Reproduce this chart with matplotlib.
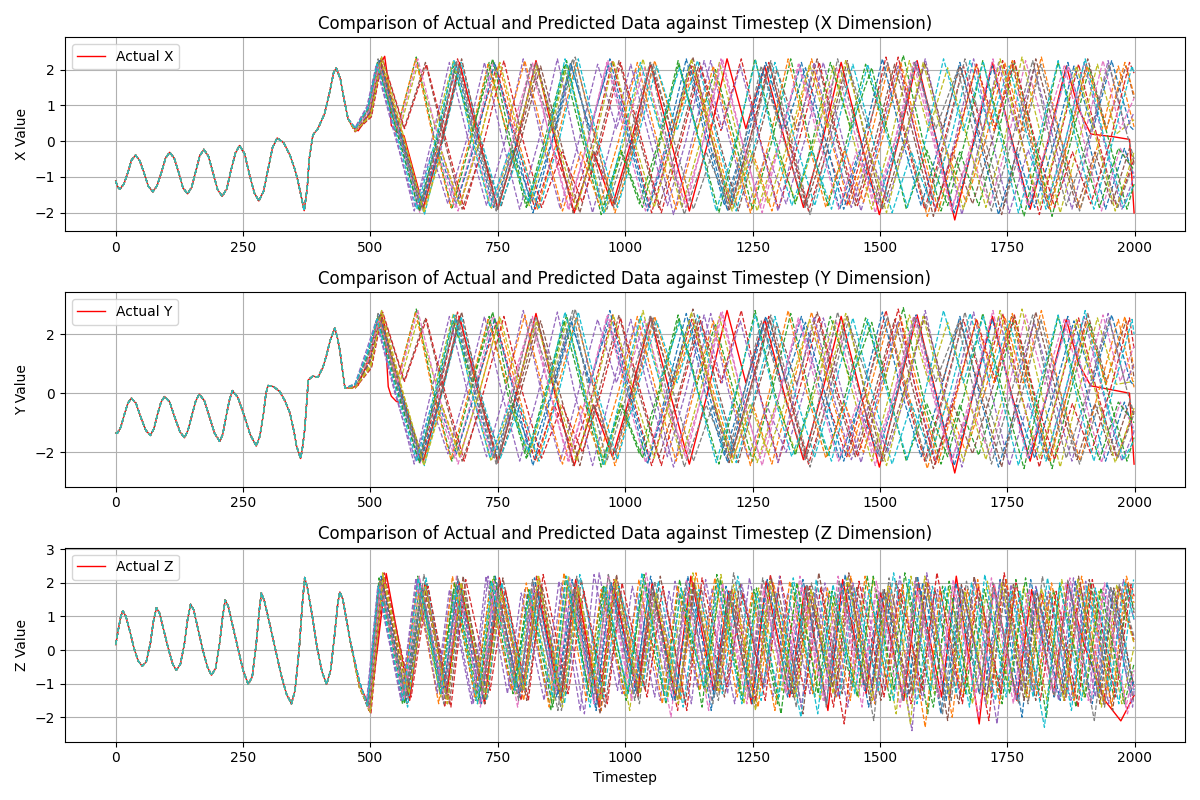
import matplotlib.pyplot as plt

# values all series share before they split
x_start_t = [0, 4, 8, 16, 24, 31, 39, 47, 56, 64, 73, 81, 90, 98, 106, 115, 124, 132, 141, 149,
             157, 165, 173, 182, 191, 200, 209, 218, 226, 235, 243, 253, 262, 272, 281, 290, 299, 308, 317, 330,
             342, 352, 358, 365, 370, 376, 380, 387, 397, 410, 420, 428, 433, 441, 448, 456]
x_start = [-1.11, -1.28, -1.34, -1.20, -0.87, -0.53, -0.39, -0.54, -0.90, -1.26, -1.41, -1.25, -0.86, -0.47, -0.31,
           -0.48, -0.89, -1.30, -1.47, -1.29, -0.85, -0.41, -0.23, -0.42, -0.88, -1.35, -1.54, -1.33, -0.83, -0.33,
           -0.12, -0.35, -0.90, -1.44, -1.67, -1.41, -0.79, -0.17, 0.09, -0.05, -0.39, -0.80, -1.13, -1.60, -1.94,
           -1.30, -0.48, 0.17, 0.35, 0.77, 1.37, 1.93, 2.04, 1.74, 1.19, 0.63]

y_start_t = [0, 3, 10, 17, 24, 31, 40, 50, 59, 68, 75, 82, 89, 96, 106, 116, 126, 135, 142, 150,
             157, 164, 174, 184, 194, 204, 210, 216, 223, 229, 240, 252, 264, 276, 283, 290, 295, 299, 310, 322,
             332, 342, 350, 355, 363, 367, 371, 375, 378, 387, 397, 407, 414, 421, 430, 435, 440, 445, 450]
y_start = [-1.34, -1.36, -1.15, -0.72, -0.33, -0.17, -0.35, -0.85, -1.25, -1.43, -1.20, -0.72, -0.30, -0.11, -0.30,
           -0.82, -1.30, -1.51, -1.25, -0.72, -0.27, -0.03, -0.25, -0.80, -1.35, -1.63, -1.40, -0.85, -0.25, 0.09,
           -0.15, -0.75, -1.40, -1.79, -1.45, -0.70, 0.0, 0.26, 0.22, 0.06, -0.25, -0.67, -1.3, -1.79, -2.21,
           -1.8, -1.23, -0.3, 0.45, 0.58, 0.54, 0.89, 1.3, 1.79, 2.20, 1.9, 1.45, 0.8, 0.17]

z_start_t = [0, 5, 10, 14, 20, 28, 36, 44, 52, 60, 68, 74, 80, 86, 95, 104, 112, 119, 127, 135,
             141, 147, 153, 162, 171, 180, 188, 196, 204, 210, 215, 221, 230, 240, 250, 260, 268, 276, 282, 286,
             292, 302, 313, 325, 335, 345, 352, 360, 366, 371, 377, 386, 395, 405, 414, 422, 430, 436, 440, 446,
             453, 460]
z_start = [0.16, 0.6, 1.0, 1.17, 1.0, 0.55, 0.05, -0.32, -0.48, -0.35, 0.2, 0.85, 1.26, 1.1, 0.55, 0.0, -0.42, -0.60,
           -0.42, 0.2, 0.9, 1.36, 1.2, 0.6, 0.0, -0.5, -0.75, -0.55, 0.2, 1.0, 1.49, 1.3, 0.7, 0.05, -0.6, -1.02,
           -0.8, 0.2, 1.2, 1.70, 1.45, 0.8, 0.05, -0.75, -1.3, -1.6, -1.2, 0.0, 1.3, 2.16, 1.8, 1.0, 0.1, -0.65,
           -1.02, -0.6, 0.5, 1.4, 1.73, 1.5, 0.9, 0.3]

# actual series after the split
act_t = [466, 476, 500, 512, 521, 528, 535, 541, 551, 566, 604, 640, 675, 712, 750, 788, 825, 862, 900, 938,
         975, 1012, 1050, 1088, 1126, 1163, 1200, 1237, 1274, 1312, 1350, 1387, 1424, 1462, 1499, 1536, 1573,
         1610, 1647, 1684, 1721, 1758, 1795, 1830, 1866, 1890, 1914, 1960, 1990, 1999]
act_x = [0.37, 0.29, 0.81, 1.65, 2.2, 2.37, 1.65, 0.44, 0.26, 0.15, -1.85, 0.0, 2.2, 0.1, -1.9, 0.0, 2.25, 0.05,
         -2.0, -0.3, -1.8, 0.0, 2.15, 0.1, -1.95, 0.0, 2.3, 0.35, 2.1, 0.1, -1.85, 0.0, 2.2, 0.05, -2.05, 0.0,
         2.25, 0.1, -2.2, 0.0, 2.2, 0.1, -1.9, 0.0, 2.1, 0.9, 0.2, 0.12, 0.05, -2.0]
act_y = [0.2, 0.27, 1.3, 2.35, 2.68, 2.3, 0.22, -0.1, -0.28, -0.35, -2.3, 0.05, 2.6, 0.0, -2.35, 0.1, 2.7, 0.0,
         -2.45, -0.4, -2.15, 0.05, 2.55, 0.0, -2.4, 0.1, 2.8, 0.35, 2.5, 0.0, -2.25, 0.05, 2.6, 0.0, -2.5, 0.1,
         2.65, 0.0, -2.7, 0.05, 2.6, 0.0, -2.3, 0.1, 2.5, 1.0, 0.25, 0.1, 0.0, -2.4]
act_tz = [478, 499, 515, 531, 577, 607, 650, 678, 724, 753, 799, 828, 874, 903, 949, 978, 1024, 1053, 1099, 1129,
          1174, 1203, 1248, 1277, 1323, 1353, 1398, 1427, 1473, 1502, 1547, 1576, 1621, 1650, 1695, 1724, 1769,
          1798, 1841, 1869, 1900, 1941, 1973, 1994, 1999]
act_z = [-1.0, -1.71, 0.2, 2.28, -1.5, 2.0, -1.3, 1.9, -1.6, 2.15, -1.2, 1.8, -1.5, 2.1, -1.7, 1.85, -1.3, 2.0,
         -1.4, 2.2, -1.2, 1.75, -1.6, 2.05, -1.4, 1.9, -1.8, 2.1, -1.3, 1.7, -1.5, 2.0, -1.4, 2.2, -2.2, 1.95,
         -1.5, 1.8, -1.3, 2.0, 0.2, -1.49, -2.11, -1.5, -1.35]

# predicted series after the split: turning points (times shared by X and Y)
pred_t = [
    [470, 498, 516, 555, 594, 631, 668, 705, 742, 780, 817, 855, 893, 930, 968, 1006, 1044, 1082, 1120, 1158, 1195, 1233, 1270, 1308, 1346, 1384, 1421, 1459, 1496, 1534, 1571, 1609, 1646, 1684, 1721, 1757, 1793, 1831, 1869, 1906, 1943, 1980, 1999],
    [470, 500, 520, 562, 604, 640, 676, 714, 752, 790, 828, 866, 904, 942, 980, 1019, 1058, 1097, 1136, 1174, 1212, 1250, 1288, 1327, 1366, 1403, 1440, 1478, 1517, 1555, 1593, 1631, 1669, 1707, 1745, 1781, 1817, 1855, 1893, 1930, 1968, 1999],
    [470, 496, 514, 552, 590, 625, 660, 697, 733, 770, 806, 843, 880, 917, 953, 991, 1028, 1066, 1104, 1141, 1177, 1214, 1250, 1288, 1325, 1362, 1398, 1435, 1472, 1509, 1546, 1583, 1620, 1657, 1694, 1729, 1764, 1801, 1838, 1875, 1911, 1948, 1985, 1999],
    [470, 499, 519, 559, 599, 635, 671, 709, 747, 785, 823, 861, 899, 937, 975, 1013, 1052, 1091, 1131, 1169, 1207, 1244, 1282, 1321, 1360, 1397, 1435, 1473, 1512, 1550, 1588, 1626, 1664, 1702, 1741, 1777, 1813, 1851, 1890, 1927, 1965, 1999],
    [470, 494, 512, 549, 586, 620, 655, 691, 728, 764, 800, 836, 873, 909, 946, 983, 1020, 1057, 1095, 1131, 1168, 1204, 1241, 1278, 1316, 1352, 1389, 1426, 1463, 1499, 1536, 1573, 1610, 1647, 1684, 1719, 1754, 1791, 1828, 1864, 1901, 1938, 1975, 1999],
    [470, 502, 522, 566, 608, 644, 680, 718, 757, 795, 834, 872, 911, 949, 988, 1027, 1066, 1106, 1146, 1184, 1222, 1260, 1298, 1337, 1377, 1414, 1452, 1490, 1529, 1567, 1605, 1643, 1682, 1720, 1759, 1795, 1831, 1869, 1908, 1945, 1983, 1999],
    [470, 497, 517, 557, 597, 632, 666, 704, 741, 778, 815, 853, 890, 927, 964, 1002, 1040, 1079, 1117, 1154, 1191, 1228, 1265, 1304, 1342, 1379, 1415, 1453, 1491, 1529, 1566, 1603, 1640, 1678, 1716, 1751, 1786, 1824, 1862, 1899, 1935, 1972, 1999],
    [470, 496, 515, 559, 602, 638, 673, 711, 749, 787, 825, 864, 902, 940, 978, 1017, 1055, 1095, 1134, 1172, 1210, 1248, 1286, 1325, 1363, 1401, 1438, 1477, 1515, 1553, 1591, 1629, 1667, 1706, 1744, 1780, 1816, 1854, 1892, 1930, 1967, 1999],
    [470, 500, 521, 557, 592, 628, 663, 700, 737, 775, 812, 849, 886, 923, 960, 998, 1035, 1073, 1111, 1148, 1185, 1222, 1259, 1297, 1335, 1372, 1409, 1447, 1484, 1521, 1558, 1596, 1633, 1671, 1708, 1744, 1779, 1817, 1854, 1891, 1927, 1964, 1999],
    [470, 495, 513, 560, 606, 642, 678, 716, 755, 793, 831, 870, 908, 946, 985, 1023, 1062, 1102, 1142, 1180, 1218, 1256, 1294, 1333, 1372, 1409, 1447, 1485, 1524, 1562, 1600, 1638, 1677, 1715, 1754, 1790, 1826, 1864, 1903, 1940, 1978, 1999],
    [470, 498, 518, 558, 598, 634, 669, 707, 744, 782, 819, 857, 894, 932, 970, 1009, 1047, 1087, 1126, 1164, 1201, 1239, 1276, 1315, 1354, 1392, 1429, 1467, 1505, 1543, 1581, 1619, 1657, 1695, 1733, 1769, 1804, 1843, 1881, 1918, 1955, 1992, 1999],
    [470, 497, 516, 552, 589, 623, 658, 694, 731, 767, 803, 840, 877, 913, 950, 987, 1024, 1062, 1100, 1136, 1173, 1209, 1246, 1283, 1320, 1357, 1394, 1431, 1468, 1504, 1541, 1578, 1615, 1652, 1689, 1724, 1760, 1797, 1834, 1870, 1907, 1944, 1981, 1999],
    [470, 495, 514, 553, 596, 629, 662, 701, 740, 774, 808, 846, 885, 920, 955, 994, 1034, 1069, 1105, 1144, 1184, 1219, 1255, 1294, 1334, 1368, 1403, 1443, 1484, 1518, 1552, 1592, 1633, 1667, 1702, 1742, 1783, 1816, 1850, 1890, 1931, 1968, 1999],
    [470, 502, 524, 567, 610, 647, 684, 723, 762, 799, 836, 876, 916, 953, 991, 1031, 1071, 1110, 1148, 1188, 1228, 1264, 1301, 1341, 1381, 1418, 1456, 1496, 1536, 1572, 1609, 1650, 1690, 1727, 1764, 1803, 1843, 1878, 1914, 1952, 1990, 1999],
    [470, 493, 511, 548, 588, 620, 652, 688, 724, 758, 793, 830, 867, 901, 936, 973, 1011, 1047, 1083, 1119, 1155, 1190, 1226, 1263, 1300, 1335, 1371, 1407, 1444, 1479, 1515, 1552, 1589, 1625, 1661, 1697, 1733, 1768, 1803, 1840, 1877, 1912, 1948, 1982, 1999],
    [470, 499, 520, 561, 603, 641, 679, 715, 750, 790, 829, 864, 898, 939, 980, 1015, 1050, 1092, 1133, 1169, 1204, 1244, 1284, 1320, 1355, 1396, 1436, 1471, 1506, 1547, 1588, 1623, 1657, 1698, 1739, 1773, 1806, 1847, 1887, 1922, 1956, 1990, 1999],
    [470, 497, 517, 554, 593, 633, 672, 706, 739, 778, 818, 853, 888, 927, 966, 1002, 1038, 1078, 1119, 1153, 1188, 1228, 1269, 1304, 1340, 1379, 1419, 1454, 1490, 1530, 1571, 1606, 1641, 1681, 1722, 1756, 1790, 1830, 1870, 1904, 1938, 1972, 1999],
    [470, 496, 515, 556, 598, 633, 668, 707, 747, 781, 815, 856, 897, 930, 964, 1006, 1049, 1082, 1116, 1159, 1202, 1234, 1267, 1310, 1353, 1385, 1417, 1460, 1503, 1535, 1568, 1610, 1653, 1686, 1719, 1759, 1800, 1833, 1866, 1908, 1950, 1985, 1999],
    [470, 501, 522, 563, 605, 640, 675, 714, 754, 790, 826, 865, 905, 941, 977, 1017, 1057, 1093, 1130, 1170, 1210, 1245, 1281, 1321, 1362, 1397, 1433, 1473, 1513, 1549, 1585, 1624, 1664, 1700, 1736, 1775, 1814, 1850, 1886, 1924, 1962, 1999],
    [470, 495, 513, 551, 591, 627, 664, 699, 735, 772, 810, 846, 882, 920, 958, 994, 1030, 1068, 1107, 1143, 1179, 1217, 1256, 1291, 1327, 1366, 1405, 1440, 1476, 1515, 1554, 1589, 1625, 1664, 1703, 1737, 1772, 1811, 1850, 1885, 1920, 1957, 1995, 1999],
]
pred_x = [
    [0.32, 0.85, 2.25, 0.2, -1.9, 0.0, 2.15, 0.05, -1.85, -0.25, -1.7, -0.05, 2.2, 0.3, 2.1, 0.1, -1.95, 0.0, 2.3, 0.1, -1.8, -0.1, 2.0, 0.35, 2.2, 0.1, -1.9, -0.3, -1.75, 0.0, 2.25, 0.15, -2.0, -0.1, 2.1, 0.1, -1.85, -0.05, 2.2, 0.2, -1.9, -0.2, -1.0],
    [0.28, 0.75, 2.3, 0.25, -1.95, -0.3, -1.8, 0.0, 2.15, 0.05, -1.9, 0.0, 2.2, 0.1, -2.0, -0.05, 2.25, 0.35, 2.05, 0.1, -1.85, -0.3, -1.95, 0.0, 2.3, 0.1, -1.8, -0.1, 2.1, 0.0, -2.1, -0.25, -1.7, 0.0, 2.2, 0.3, 2.35, 0.1, -1.9, 0.0, 2.1, 0.4],
    [0.35, 0.9, 2.15, 0.3, 2.35, 0.1, -1.9, 0.0, 2.2, 0.05, -1.85, 0.1, 2.1, 0.0, -2.05, -0.25, -1.75, 0.0, 2.25, 0.3, 2.0, 0.1, -1.9, 0.0, 2.3, 0.05, -1.8, 0.0, 2.15, 0.35, 2.4, 0.1, -1.95, -0.3, -1.8, 0.0, 2.2, 0.1, -2.1, 0.0, 2.05, 0.1, -1.9, -1.2],
    [0.3, 0.8, 2.2, 0.2, -1.85, 0.05, 2.3, 0.3, 2.05, 0.1, -1.9, -0.3, -1.7, 0.0, 2.25, 0.1, -2.0, 0.0, 2.1, 0.1, -1.85, 0.0, 2.2, 0.1, -1.95, -0.25, -1.8, 0.0, 2.35, 0.1, -1.9, 0.0, 2.1, 0.3, 2.25, 0.1, -2.05, 0.0, 2.15, 0.1, -1.85, -0.5],
    [0.38, 0.95, 2.1, 0.2, -1.95, 0.0, 2.2, 0.1, -1.8, 0.0, 2.3, 0.05, -1.9, 0.0, 2.15, 0.35, 2.0, 0.1, -2.05, 0.0, 2.25, 0.1, -1.85, -0.3, -1.75, 0.0, 2.2, 0.1, -1.95, 0.0, 2.1, 0.05, -1.9, 0.0, 2.3, 0.1, -2.0, -0.25, -1.7, 0.0, 2.2, 0.1, -1.9, -1.0],
    [0.27, 0.7, 2.35, 0.35, 2.2, 0.1, -1.9, -0.3, -1.8, 0.0, 2.1, 0.05, -2.0, 0.0, 2.25, 0.1, -1.85, 0.0, 2.2, 0.05, -1.95, 0.0, 2.0, 0.3, 2.3, 0.1, -1.8, 0.0, 2.15, 0.1, -2.1, -0.3, -1.75, 0.0, 2.2, 0.05, -1.9, 0.0, 2.3, 0.35, 2.1, 1.2],
    [0.3, 0.82, 2.2, 0.2, -2.0, -0.3, -1.85, 0.0, 2.25, 0.3, 2.1, 0.1, -1.9, 0.0, 2.2, 0.05, -1.95, -0.25, -1.7, 0.0, 2.3, 0.1, -1.85, 0.0, 2.15, 0.35, 2.05, 0.1, -2.0, 0.0, 2.2, 0.1, -1.9, -0.3, -1.8, 0.0, 2.25, 0.3, 2.1, 0.1, -1.95, -0.2, -0.9],
    [0.34, 0.88, 2.3, 0.25, -1.8, 0.0, 2.1, 0.05, -1.95, 0.0, 2.2, 0.3, 2.35, 0.1, -1.85, 0.0, 2.15, 0.05, -1.9, -0.3, -1.75, 0.0, 2.25, 0.1, -2.05, 0.0, 2.1, 0.35, 2.2, 0.1, -1.9, 0.0, 2.3, 0.05, -1.8, 0.0, 2.15, 0.1, -1.95, -0.25, -1.85, -0.6],
    [0.29, 0.72, 2.2, 0.3, 2.1, 0.35, 2.25, 0.1, -1.9, -0.3, -1.8, 0.0, 2.15, 0.05, -2.0, 0.0, 2.3, 0.1, -1.85, 0.0, 2.2, 0.05, -1.95, -0.25, -1.7, 0.0, 2.1, 0.1, -1.9, 0.0, 2.25, 0.3, 2.05, 0.1, -1.85, 0.0, 2.35, 0.1, -2.0, 0.0, 2.15, 0.2, 0.6],
    [0.36, 0.92, 2.15, 0.2, -2.05, 0.0, 2.2, 0.1, -1.8, -0.3, -1.9, 0.0, 2.3, 0.05, -1.85, 0.0, 2.1, 0.3, 2.25, 0.1, -1.95, 0.0, 2.2, 0.05, -1.8, 0.0, 2.15, 0.1, -2.0, -0.3, -1.75, 0.0, 2.25, 0.35, 2.1, 0.1, -1.9, 0.0, 2.3, 0.1, -1.85, -1.2],
    [0.31, 0.8, 2.25, 0.2, -1.9, -0.25, -1.75, 0.0, 2.2, 0.05, -2.0, 0.0, 2.1, 0.3, 2.3, 0.1, -1.85, 0.0, 2.15, 0.05, -1.95, 0.0, 2.2, 0.35, 2.05, 0.1, -1.9, 0.0, 2.3, 0.1, -1.8, 0.0, 2.2, 0.05, -2.05, -0.3, -1.85, 0.0, 2.1, 0.3, 2.25, 0.4, 0.3],
    [0.33, 0.86, 2.2, 0.35, 2.3, 0.1, -1.85, 0.0, 2.15, 0.3, 2.25, 0.1, -1.95, -0.3, -1.8, 0.0, 2.2, 0.05, -1.9, 0.0, 2.1, 0.1, -2.0, 0.0, 2.3, 0.1, -1.85, -0.25, -1.7, 0.0, 2.2, 0.05, -1.95, 0.0, 2.15, 0.3, 2.25, 0.1, -1.9, 0.0, 2.1, 0.3, 2.2, 1.3],
    [0.34, 0.9, 2.2, 0.2, -1.95, 0.0, 2.1, 0.3, 2.3, 0.1, -1.8, 0.0, 2.25, 0.05, -1.9, -0.3, -1.85, 0.0, 2.15, 0.1, -2.0, 0.0, 2.3, 0.1, -1.75, 0.0, 2.2, 0.35, 2.05, 0.1, -1.9, -0.25, -1.8, 0.0, 2.25, 0.05, -2.1, 0.0, 2.2, 0.1, -1.85, -0.2, -0.8],
    [0.26, 0.68, 2.3, 0.35, 2.15, 0.1, -1.9, 0.0, 2.25, 0.05, -1.85, -0.3, -1.7, 0.0, 2.2, 0.1, -2.0, 0.0, 2.1, 0.3, 2.3, 0.1, -1.9, 0.0, 2.2, 0.05, -1.8, 0.0, 2.35, 0.1, -1.95, 0.0, 2.15, 0.35, 2.25, 0.1, -1.85, -0.3, -1.75, 0.0, 2.2, 1.9],
    [0.38, 0.97, 2.1, 0.15, -1.85, -0.3, -1.75, 0.0, 2.2, 0.1, -1.9, 0.0, 2.3, 0.05, -2.0, 0.0, 2.15, 0.1, -1.8, 0.0, 2.25, 0.35, 2.1, 0.1, -1.95, 0.0, 2.2, 0.05, -1.85, -0.3, -1.7, 0.0, 2.3, 0.1, -2.05, 0.0, 2.2, 0.3, 2.05, 0.1, -1.9, 0.0, 2.25, 0.3, 0.8],
    [0.3, 0.78, 2.25, 0.2, -1.9, 0.0, 2.3, 0.05, -1.85, 0.0, 2.1, 0.1, -2.0, -0.3, -1.75, 0.0, 2.2, 0.3, 2.35, 0.1, -1.95, 0.0, 2.15, 0.05, -1.8, 0.0, 2.25, 0.1, -1.9, 0.0, 2.2, 0.35, 2.1, 0.1, -2.05, 0.0, 2.3, 0.1, -1.85, -0.3, -1.75, -0.2, -0.6],
    [0.31, 0.83, 2.15, 0.3, 2.3, 0.1, -1.95, -0.25, -1.8, 0.0, 2.2, 0.05, -1.9, 0.0, 2.25, 0.35, 2.05, 0.1, -1.85, 0.0, 2.3, 0.05, -2.0, 0.0, 2.15, 0.1, -1.9, -0.3, -1.7, 0.0, 2.2, 0.1, -1.95, 0.0, 2.3, 0.05, -1.8, 0.0, 2.1, 0.3, 2.25, 0.35, 1.2],
    [0.33, 0.87, 2.2, 0.2, -1.8, 0.0, 2.25, 0.1, -1.95, 0.0, 2.15, 0.3, 2.3, 0.1, -1.9, 0.0, 2.2, 0.05, -2.05, -0.3, -1.75, 0.0, 2.1, 0.1, -1.85, 0.0, 2.3, 0.05, -1.9, 0.0, 2.2, 0.35, 2.0, 0.1, -1.95, 0.0, 2.25, 0.1, -1.8, 0.0, 2.15, 0.2, -0.5],
    [0.28, 0.72, 2.35, 0.25, -2.0, -0.3, -1.8, 0.0, 2.2, 0.3, 2.1, 0.1, -1.9, 0.0, 2.25, 0.05, -1.85, 0.0, 2.3, 0.1, -1.95, -0.25, -1.75, 0.0, 2.15, 0.35, 2.25, 0.1, -2.0, 0.0, 2.2, 0.05, -1.9, 0.0, 2.3, 0.1, -1.8, 0.0, 2.1, 0.1, -1.95, -0.3],
    [0.35, 0.93, 2.15, 0.2, -1.9, 0.0, 2.25, 0.05, -1.85, -0.3, -1.7, 0.0, 2.3, 0.1, -2.0, 0.0, 2.2, 0.35, 2.05, 0.1, -1.95, 0.0, 2.25, 0.05, -1.8, -0.25, -1.9, 0.0, 2.15, 0.1, -1.85, 0.0, 2.3, 0.3, 2.2, 0.1, -2.0, 0.0, 2.25, 0.05, -1.9, 0.0, 2.1, 1.9],
]
pred_y = [
    [0.25, 1.2, 2.6, 0.05, -2.3, 0.1, 2.5, -0.05, -2.2, -0.35, -2.0, 0.0, 2.55, 0.3, 2.4, 0.0, -2.4, 0.1, 2.7, -0.05, -2.1, 0.05, 2.3, 0.35, 2.6, 0.0, -2.25, -0.4, -2.05, 0.1, 2.65, 0.0, -2.45, 0.05, 2.5, 0.0, -2.2, 0.1, 2.6, 0.05, -2.3, -0.3, -1.3],
    [0.2, 1.0, 2.7, 0.1, -2.35, -0.4, -2.1, 0.05, 2.5, 0.0, -2.3, 0.1, 2.55, 0.0, -2.45, 0.05, 2.6, 0.3, 2.4, 0.0, -2.2, -0.35, -2.4, 0.1, 2.75, 0.0, -2.15, 0.0, 2.45, 0.05, -2.55, -0.3, -2.0, 0.1, 2.6, 0.35, 2.8, 0.0, -2.3, 0.1, 2.5, 0.2],
    [0.3, 1.3, 2.5, 0.35, 2.85, 0.0, -2.3, 0.1, 2.6, -0.05, -2.2, 0.05, 2.45, 0.0, -2.5, -0.35, -2.05, 0.1, 2.65, 0.3, 2.35, 0.0, -2.3, 0.05, 2.7, 0.0, -2.15, 0.1, 2.55, 0.4, 2.9, 0.0, -2.4, -0.4, -2.1, 0.05, 2.6, 0.0, -2.55, 0.1, 2.4, 0.0, -2.3, -1.5],
    [0.22, 1.1, 2.6, 0.05, -2.2, 0.1, 2.75, 0.35, 2.4, 0.0, -2.3, -0.4, -2.0, 0.05, 2.65, 0.0, -2.45, 0.1, 2.5, 0.0, -2.2, 0.05, 2.6, 0.0, -2.4, -0.3, -2.15, 0.1, 2.8, 0.0, -2.3, 0.05, 2.5, 0.3, 2.7, 0.0, -2.5, 0.1, 2.55, 0.0, -2.2, -0.6],
    [0.3, 1.4, 2.45, 0.05, -2.4, 0.1, 2.6, 0.0, -2.15, 0.05, 2.8, 0.0, -2.3, 0.1, 2.5, 0.35, 2.35, 0.0, -2.5, 0.05, 2.7, 0.0, -2.2, -0.4, -2.0, 0.1, 2.55, 0.0, -2.35, 0.05, 2.45, 0.0, -2.3, 0.1, 2.75, 0.0, -2.45, -0.35, -2.05, 0.05, 2.6, 0.0, -2.3, -1.3],
    [0.18, 0.9, 2.8, 0.4, 2.55, 0.0, -2.3, -0.4, -2.1, 0.05, 2.45, 0.0, -2.45, 0.1, 2.65, 0.0, -2.2, 0.05, 2.6, 0.0, -2.35, 0.1, 2.35, 0.3, 2.75, 0.0, -2.15, 0.05, 2.5, 0.0, -2.55, -0.35, -2.05, 0.1, 2.6, 0.0, -2.3, 0.05, 2.7, 0.4, 2.45, 0.5],
    [0.25, 1.15, 2.55, 0.05, -2.4, -0.4, -2.2, 0.1, 2.65, 0.35, 2.45, 0.0, -2.3, 0.05, 2.6, 0.0, -2.35, -0.3, -2.0, 0.1, 2.75, 0.0, -2.2, 0.05, 2.5, 0.4, 2.4, 0.0, -2.45, 0.1, 2.6, 0.0, -2.3, -0.4, -2.1, 0.05, 2.65, 0.3, 2.5, 0.0, -2.35, -0.3, -1.2],
    [0.28, 1.25, 2.7, 0.1, -2.15, 0.05, 2.45, 0.0, -2.4, 0.1, 2.6, 0.35, 2.85, 0.0, -2.25, 0.05, 2.55, 0.0, -2.3, -0.4, -2.05, 0.1, 2.65, 0.0, -2.5, 0.05, 2.45, 0.4, 2.6, 0.0, -2.3, 0.1, 2.75, 0.0, -2.15, 0.05, 2.5, 0.0, -2.4, -0.35, -2.2, -0.7],
    [0.2, 0.95, 2.6, 0.3, 2.45, 0.35, 2.7, 0.0, -2.3, -0.4, -2.1, 0.1, 2.5, 0.0, -2.45, 0.05, 2.8, 0.0, -2.2, 0.1, 2.6, 0.0, -2.35, -0.3, -2.0, 0.05, 2.45, 0.0, -2.3, 0.1, 2.65, 0.35, 2.4, 0.0, -2.25, 0.05, 2.85, 0.0, -2.5, 0.1, 2.55, 0.3, 0.4],
    [0.32, 1.45, 2.5, 0.05, -2.45, 0.1, 2.6, 0.0, -2.2, -0.4, -2.3, 0.05, 2.75, 0.0, -2.25, 0.1, 2.45, 0.35, 2.65, 0.0, -2.35, 0.05, 2.6, 0.0, -2.15, 0.1, 2.55, 0.0, -2.4, -0.35, -2.1, 0.05, 2.7, 0.4, 2.45, 0.0, -2.3, 0.1, 2.8, 0.0, -2.25, -1.6],
    [0.24, 1.05, 2.65, 0.05, -2.3, -0.35, -2.05, 0.1, 2.55, 0.0, -2.45, 0.05, 2.4, 0.35, 2.8, 0.0, -2.25, 0.1, 2.5, 0.0, -2.35, 0.05, 2.6, 0.4, 2.4, 0.0, -2.3, 0.1, 2.75, 0.0, -2.15, 0.05, 2.6, 0.0, -2.5, -0.4, -2.2, 0.1, 2.45, 0.35, 2.65, 0.4, 0.25],
    [0.27, 1.15, 2.55, 0.4, 2.75, 0.0, -2.25, 0.1, 2.5, 0.35, 2.65, 0.0, -2.4, -0.4, -2.1, 0.05, 2.6, 0.0, -2.3, 0.1, 2.45, 0.0, -2.45, 0.05, 2.8, 0.0, -2.2, -0.35, -2.0, 0.1, 2.55, 0.0, -2.35, 0.05, 2.5, 0.35, 2.7, 0.0, -2.3, 0.1, 2.45, 0.3, 2.6, 0.8],
    [0.26, 1.3, 2.6, 0.05, -2.35, 0.1, 2.45, 0.35, 2.75, 0.0, -2.15, 0.05, 2.65, 0.0, -2.3, -0.4, -2.2, 0.1, 2.5, 0.0, -2.4, 0.05, 2.8, 0.0, -2.1, 0.1, 2.6, 0.4, 2.4, 0.0, -2.3, -0.35, -2.15, 0.05, 2.7, 0.0, -2.55, 0.1, 2.6, 0.0, -2.25, -0.3, -1.0],
    [0.17, 0.85, 2.75, 0.4, 2.5, 0.0, -2.3, 0.1, 2.6, 0.0, -2.2, -0.4, -2.0, 0.05, 2.55, 0.0, -2.45, 0.1, 2.45, 0.35, 2.8, 0.0, -2.3, 0.05, 2.6, 0.0, -2.15, 0.1, 2.85, 0.0, -2.4, 0.05, 2.5, 0.4, 2.65, 0.0, -2.25, -0.35, -2.05, 0.1, 2.55, 1.5],
    [0.33, 1.5, 2.45, 0.0, -2.25, -0.4, -2.05, 0.1, 2.6, 0.0, -2.3, 0.05, 2.75, 0.0, -2.45, 0.1, 2.5, 0.0, -2.15, 0.05, 2.65, 0.35, 2.45, 0.0, -2.35, 0.1, 2.6, 0.0, -2.25, -0.35, -2.0, 0.05, 2.8, 0.0, -2.5, 0.1, 2.6, 0.35, 2.4, 0.0, -2.3, 0.1, 2.7, 0.3, 1.0],
    [0.22, 1.05, 2.65, 0.05, -2.3, 0.1, 2.75, 0.0, -2.25, 0.05, 2.45, 0.0, -2.45, -0.4, -2.05, 0.1, 2.6, 0.35, 2.85, 0.0, -2.35, 0.05, 2.5, 0.0, -2.2, 0.1, 2.65, 0.0, -2.3, 0.05, 2.6, 0.4, 2.45, 0.0, -2.5, 0.1, 2.75, 0.0, -2.25, -0.35, -2.1, -0.3, -0.8],
    [0.25, 1.2, 2.5, 0.35, 2.8, 0.0, -2.4, -0.35, -2.15, 0.1, 2.6, 0.0, -2.3, 0.05, 2.65, 0.4, 2.45, 0.0, -2.2, 0.1, 2.75, 0.0, -2.45, 0.05, 2.55, 0.0, -2.3, -0.4, -2.05, 0.1, 2.6, 0.0, -2.35, 0.05, 2.8, 0.0, -2.2, 0.1, 2.5, 0.35, 2.65, 0.4, 1.6],
    [0.27, 1.25, 2.6, 0.05, -2.15, 0.1, 2.65, 0.0, -2.4, 0.05, 2.5, 0.35, 2.8, 0.0, -2.3, 0.1, 2.6, 0.0, -2.5, -0.4, -2.1, 0.05, 2.45, 0.0, -2.25, 0.1, 2.75, 0.0, -2.3, 0.05, 2.6, 0.4, 2.35, 0.0, -2.4, 0.1, 2.65, 0.0, -2.2, 0.05, 2.5, 0.1, -0.7],
    [0.18, 0.9, 2.8, 0.1, -2.45, -0.4, -2.15, 0.05, 2.6, 0.35, 2.45, 0.0, -2.3, 0.1, 2.65, 0.0, -2.2, 0.05, 2.75, 0.0, -2.35, -0.35, -2.05, 0.1, 2.5, 0.4, 2.7, 0.0, -2.45, 0.05, 2.6, 0.0, -2.3, 0.1, 2.8, 0.0, -2.2, 0.05, 2.5, 0.0, -2.35, -0.5],
    [0.3, 1.4, 2.5, 0.05, -2.3, 0.1, 2.65, 0.0, -2.2, -0.4, -2.0, 0.05, 2.75, 0.0, -2.45, 0.1, 2.6, 0.4, 2.4, 0.0, -2.35, 0.05, 2.65, 0.0, -2.15, -0.35, -2.3, 0.1, 2.5, 0.0, -2.25, 0.05, 2.8, 0.35, 2.6, 0.0, -2.45, 0.1, 2.65, 0.0, -2.3, 0.05, 2.5, 2.0],
]

# predicted Z: peaks and troughs
pred_tz = [
    [478, 497, 519, 567, 597, 642, 671, 716, 745, 791, 820, 866, 896, 942, 971, 1017, 1047, 1093, 1123, 1169, 1198, 1244, 1273, 1319, 1349, 1395, 1424, 1470, 1499, 1545, 1574, 1620, 1649, 1695, 1724, 1768, 1796, 1842, 1872, 1917, 1946, 1992, 1999],
    [478, 497, 523, 575, 607, 651, 679, 725, 755, 801, 831, 877, 907, 953, 983, 1031, 1061, 1109, 1139, 1185, 1215, 1261, 1291, 1339, 1369, 1414, 1443, 1490, 1520, 1566, 1596, 1642, 1672, 1718, 1748, 1792, 1820, 1866, 1896, 1942, 1971, 1999],
    [478, 495, 517, 563, 593, 636, 663, 707, 736, 780, 809, 854, 883, 927, 956, 1002, 1031, 1077, 1107, 1151, 1180, 1224, 1253, 1299, 1328, 1372, 1401, 1446, 1475, 1520, 1549, 1594, 1623, 1668, 1697, 1740, 1767, 1812, 1841, 1885, 1914, 1959, 1988, 1999],
    [478, 498, 522, 571, 602, 646, 674, 720, 750, 796, 826, 872, 902, 948, 978, 1025, 1055, 1103, 1134, 1180, 1210, 1256, 1285, 1333, 1363, 1409, 1438, 1485, 1515, 1561, 1591, 1637, 1667, 1714, 1744, 1788, 1816, 1863, 1893, 1939, 1968, 1999],
    [478, 493, 515, 560, 589, 631, 658, 702, 731, 775, 803, 847, 876, 920, 949, 994, 1023, 1069, 1098, 1142, 1171, 1215, 1244, 1290, 1319, 1363, 1392, 1437, 1466, 1511, 1539, 1584, 1613, 1658, 1687, 1730, 1757, 1802, 1831, 1875, 1904, 1949, 1978, 1999],
    [478, 500, 525, 578, 611, 655, 683, 730, 760, 807, 837, 884, 914, 961, 991, 1039, 1069, 1118, 1149, 1195, 1225, 1271, 1301, 1349, 1380, 1426, 1455, 1502, 1532, 1578, 1608, 1655, 1685, 1732, 1762, 1806, 1834, 1881, 1911, 1957, 1986, 1999],
    [478, 496, 520, 569, 600, 642, 669, 715, 744, 789, 818, 864, 893, 938, 967, 1013, 1043, 1090, 1120, 1165, 1194, 1239, 1268, 1315, 1345, 1389, 1418, 1464, 1494, 1540, 1569, 1614, 1643, 1689, 1719, 1762, 1789, 1835, 1865, 1909, 1938, 1983, 1999],
    [478, 495, 518, 572, 605, 648, 676, 722, 752, 798, 828, 875, 905, 951, 981, 1028, 1058, 1106, 1137, 1183, 1213, 1259, 1289, 1336, 1366, 1412, 1441, 1488, 1518, 1564, 1594, 1640, 1670, 1717, 1747, 1791, 1819, 1865, 1895, 1941, 1970, 1999],
    [478, 499, 524, 567, 595, 638, 666, 711, 740, 786, 815, 860, 889, 934, 963, 1009, 1038, 1084, 1114, 1159, 1188, 1233, 1262, 1308, 1338, 1383, 1412, 1458, 1487, 1532, 1561, 1607, 1636, 1682, 1711, 1754, 1782, 1828, 1857, 1901, 1930, 1975, 1999],
    [478, 494, 516, 573, 609, 653, 681, 728, 758, 804, 834, 881, 911, 958, 988, 1035, 1065, 1114, 1145, 1191, 1221, 1267, 1297, 1345, 1375, 1421, 1450, 1497, 1527, 1573, 1603, 1650, 1680, 1727, 1757, 1801, 1829, 1876, 1906, 1952, 1981, 1999],
    [478, 497, 521, 570, 601, 644, 672, 718, 747, 793, 822, 868, 897, 943, 973, 1020, 1050, 1098, 1129, 1175, 1204, 1250, 1279, 1327, 1357, 1403, 1432, 1478, 1508, 1554, 1584, 1630, 1660, 1706, 1736, 1779, 1807, 1854, 1884, 1929, 1958, 1999],
    [478, 496, 519, 563, 592, 634, 661, 705, 734, 778, 806, 851, 880, 924, 953, 998, 1027, 1073, 1103, 1147, 1176, 1220, 1249, 1294, 1323, 1368, 1397, 1442, 1471, 1515, 1544, 1589, 1618, 1663, 1692, 1735, 1763, 1808, 1837, 1881, 1910, 1955, 1984, 1999],
    [478, 496, 517, 567, 599, 639, 665, 713, 743, 784, 811, 858, 888, 931, 958, 1006, 1037, 1080, 1108, 1156, 1187, 1230, 1258, 1306, 1337, 1379, 1406, 1456, 1487, 1528, 1555, 1605, 1636, 1678, 1705, 1755, 1786, 1827, 1853, 1903, 1934, 1980, 1999],
    [478, 501, 527, 580, 613, 658, 687, 735, 765, 810, 839, 888, 919, 965, 994, 1043, 1074, 1121, 1151, 1200, 1231, 1275, 1304, 1353, 1384, 1430, 1459, 1508, 1539, 1583, 1612, 1662, 1693, 1738, 1767, 1815, 1846, 1889, 1917, 1963, 1993, 1999],
    [478, 492, 514, 561, 591, 630, 655, 699, 727, 769, 796, 841, 870, 912, 939, 985, 1014, 1058, 1086, 1130, 1158, 1201, 1229, 1274, 1303, 1346, 1374, 1418, 1447, 1490, 1518, 1563, 1592, 1636, 1664, 1708, 1736, 1779, 1806, 1851, 1880, 1923, 1951, 1996, 1999],
    [478, 498, 523, 574, 606, 652, 682, 725, 753, 801, 832, 874, 901, 951, 983, 1026, 1053, 1104, 1136, 1179, 1207, 1256, 1287, 1330, 1358, 1408, 1439, 1482, 1509, 1559, 1591, 1633, 1660, 1710, 1742, 1783, 1809, 1859, 1890, 1932, 1959, 1999],
    [478, 497, 520, 566, 596, 644, 675, 716, 742, 790, 821, 864, 891, 939, 969, 1013, 1041, 1091, 1122, 1164, 1191, 1241, 1272, 1315, 1343, 1391, 1422, 1465, 1493, 1543, 1574, 1617, 1644, 1694, 1725, 1766, 1793, 1842, 1873, 1914, 1941, 1986, 1999],
    [478, 496, 518, 569, 601, 644, 671, 719, 750, 791, 818, 868, 900, 941, 967, 1019, 1052, 1093, 1119, 1172, 1205, 1244, 1270, 1323, 1356, 1395, 1420, 1473, 1506, 1545, 1571, 1623, 1656, 1696, 1722, 1772, 1803, 1843, 1869, 1921, 1953, 1998],
    [478, 500, 525, 576, 608, 651, 678, 726, 757, 801, 829, 877, 908, 952, 980, 1029, 1060, 1104, 1133, 1182, 1213, 1256, 1284, 1334, 1365, 1408, 1436, 1485, 1516, 1560, 1588, 1636, 1667, 1711, 1739, 1787, 1817, 1861, 1889, 1935, 1965, 1999],
    [478, 494, 516, 564, 594, 638, 667, 710, 738, 784, 813, 857, 885, 931, 961, 1005, 1033, 1080, 1110, 1154, 1182, 1229, 1259, 1302, 1330, 1378, 1408, 1451, 1479, 1527, 1557, 1600, 1628, 1676, 1706, 1748, 1775, 1823, 1853, 1896, 1923, 1969, 1998],
]
pred_z = [
    [-1.0, -1.75, 2.1, -1.5, 2.0, -1.3, 1.9, -1.6, 2.2, -1.2, 1.7, -1.4, 2.1, -1.7, 2.0, -1.3, 1.8, -1.5, 2.2, -1.8, 1.9, -1.1, 1.6, -1.4, 2.1, -1.6, 2.0, -1.2, 1.7, -1.5, 2.2, -1.9, 2.0, -1.3, 1.8, -1.5, 2.1, -1.4, 1.9, -1.6, 2.0, -1.3, -0.9],
    [-1.05, -1.8, 2.2, -1.3, 1.8, -1.6, 2.0, -1.1, 1.7, -1.5, 2.2, -1.4, 1.9, -1.8, 2.1, -1.2, 1.6, -1.5, 2.3, -1.3, 1.8, -1.7, 2.0, -1.0, 1.7, -1.4, 2.2, -1.6, 1.9, -1.2, 2.0, -2.0, 1.8, -1.3, 2.1, -1.5, 1.7, -1.4, 2.2, -1.6, 1.9, 0.2],
    [-0.95, -1.7, 1.95, -1.6, 2.2, -1.2, 1.8, -1.5, 2.05, -1.3, 1.7, -1.8, 2.2, -1.1, 1.9, -1.5, 1.65, -1.35, 2.1, -1.7, 2.25, -1.2, 1.8, -1.6, 2.0, -1.4, 1.75, -1.1, 2.2, -1.5, 2.3, -1.9, 1.9, -1.3, 1.7, -1.6, 2.1, -1.2, 1.8, -1.7, 2.0, -1.4, 1.85, 1.2],
    [-1.0, -1.8, 2.15, -1.4, 1.85, -1.7, 2.05, -1.2, 1.75, -1.5, 2.2, -1.3, 1.9, -1.6, 2.1, -1.4, 1.7, -1.8, 2.0, -1.2, 1.8, -1.5, 2.25, -1.3, 1.9, -1.7, 2.0, -1.1, 1.75, -1.6, 2.15, -1.4, 1.85, -2.1, 2.3, -1.3, 1.7, -1.5, 2.0, -1.6, 1.9, 0.3],
    [-0.9, -1.65, 1.9, -1.5, 2.1, -1.3, 1.75, -1.6, 2.2, -1.2, 1.8, -1.4, 2.0, -1.9, 2.3, -1.3, 1.7, -1.5, 2.05, -1.1, 1.85, -1.6, 2.15, -1.4, 1.7, -1.3, 2.0, -1.7, 1.9, -1.2, 2.2, -1.5, 1.8, -1.4, 2.1, -2.2, 1.95, -1.3, 1.75, -1.5, 2.05, -1.6, 2.1, 0.9],
    [-1.1, -1.85, 2.25, -1.2, 2.0, -1.6, 1.8, -1.4, 2.15, -1.5, 1.9, -1.3, 2.1, -1.7, 1.7, -1.2, 2.2, -1.6, 1.85, -1.4, 2.0, -1.1, 1.75, -1.9, 2.3, -1.3, 1.9, -1.5, 2.05, -1.4, 1.8, -1.6, 2.2, -1.2, 1.95, -1.5, 1.7, -1.35, 2.1, -1.8, 2.0, 1.1],
    [-1.0, -1.75, 2.05, -1.4, 1.9, -1.5, 2.2, -1.2, 1.8, -1.7, 2.0, -1.3, 1.7, -1.5, 2.25, -1.4, 1.95, -2.0, 2.1, -1.2, 1.75, -1.6, 2.0, -1.3, 1.85, -1.5, 2.2, -1.1, 1.8, -1.7, 2.05, -1.4, 1.9, -1.3, 2.15, -1.6, 1.7, -1.2, 2.0, -1.5, 1.85, -1.7, -0.6],
    [-0.95, -1.7, 2.0, -1.6, 2.25, -1.3, 1.85, -1.5, 2.1, -1.2, 1.7, -1.8, 2.2, -1.4, 1.9, -1.6, 2.05, -1.3, 1.8, -1.5, 2.3, -1.2, 1.75, -1.7, 2.0, -1.4, 1.9, -2.1, 2.15, -1.3, 1.7, -1.5, 2.05, -1.2, 1.85, -1.6, 2.2, -1.4, 1.8, -1.7, 1.95, 0.4],
    [-1.05, -1.8, 2.3, -1.1, 1.7, -1.4, 1.95, -1.6, 2.1, -1.3, 1.8, -1.5, 2.2, -1.2, 1.9, -1.8, 2.05, -1.4, 1.75, -1.3, 2.25, -1.6, 1.85, -1.2, 2.0, -1.5, 1.7, -1.4, 2.15, -1.9, 2.2, -1.3, 1.8, -1.6, 2.05, -1.1, 1.9, -1.5, 2.1, -1.4, 1.75, -1.6, 0.1],
    [-0.9, -1.7, 1.95, -1.7, 2.15, -1.3, 1.8, -1.5, 2.0, -1.2, 1.75, -1.6, 2.25, -1.4, 1.9, -1.1, 2.05, -1.7, 1.8, -1.3, 2.2, -1.5, 1.7, -2.0, 2.1, -1.4, 1.85, -1.2, 2.3, -1.6, 1.9, -1.3, 2.0, -1.5, 1.75, -1.4, 2.15, -1.8, 1.9, -1.2, 2.05, 0.9],
    [-1.0, -1.75, 2.2, -1.5, 1.8, -1.2, 2.05, -1.6, 1.9, -1.4, 2.15, -1.3, 1.75, -1.8, 2.0, -1.2, 2.2, -1.5, 1.85, -1.4, 1.7, -1.6, 2.1, -1.3, 1.95, -1.1, 2.25, -1.7, 1.8, -1.4, 2.0, -1.5, 1.9, -1.2, 2.1, -2.0, 1.85, -1.5, 2.05, -1.4, 1.8, -1.2],
    [-0.95, -1.75, 2.05, -1.3, 1.85, -1.6, 2.2, -1.4, 1.75, -1.2, 2.0, -1.7, 2.3, -1.5, 1.8, -1.3, 2.1, -1.6, 1.9, -1.2, 2.15, -1.4, 1.7, -1.8, 2.05, -1.3, 1.85, -1.5, 2.2, -1.1, 1.95, -2.3, 1.8, -1.4, 2.1, -1.6, 1.75, -1.3, 2.0, -1.5, 1.9, -1.7, 2.2, 1.4],
    [-1.0, -1.7, 2.15, -1.6, 1.75, -1.3, 2.0, -1.5, 2.2, -1.1, 1.8, -1.7, 2.05, -1.4, 1.9, -1.3, 2.25, -1.6, 1.7, -1.2, 2.1, -1.5, 1.85, -1.9, 2.0, -1.3, 1.75, -1.4, 2.2, -1.2, 1.9, -1.7, 2.05, -1.5, 1.8, -1.3, 2.15, -2.0, 1.95, -1.4, 1.85, -1.6, -0.4],
    [-1.1, -1.9, 2.3, -1.4, 1.9, -1.7, 2.1, -1.2, 1.8, -1.5, 2.25, -1.3, 1.75, -1.6, 2.0, -1.4, 1.9, -1.8, 2.15, -1.1, 1.7, -1.5, 2.2, -1.3, 1.85, -2.2, 2.05, -1.4, 1.8, -1.2, 2.3, -1.6, 1.9, -1.3, 2.0, -1.5, 1.75, -1.7, 2.1, -1.4, 1.95, 1.6],
    [-0.9, -1.6, 1.85, -1.4, 2.1, -1.2, 1.8, -1.6, 2.2, -1.3, 1.7, -1.5, 2.05, -1.8, 2.25, -1.2, 1.9, -1.4, 1.75, -1.6, 2.1, -1.3, 1.95, -1.1, 2.2, -1.7, 1.8, -1.4, 2.0, -1.5, 1.85, -2.4, 2.3, -1.3, 1.7, -1.6, 2.05, -1.2, 1.9, -1.5, 2.15, -1.4, 1.8, -1.7, -1.2],
    [-1.0, -1.8, 2.1, -1.3, 1.8, -1.5, 2.2, -1.6, 1.95, -1.2, 2.05, -1.4, 1.7, -1.9, 2.25, -1.3, 1.85, -1.5, 2.0, -1.2, 1.75, -1.7, 2.15, -1.4, 1.9, -1.1, 2.3, -1.6, 1.8, -1.3, 2.0, -2.1, 1.95, -1.4, 2.1, -1.5, 1.7, -1.3, 2.2, -1.6, 1.85, -1.1],
    [-1.0, -1.75, 1.95, -1.5, 2.2, -1.3, 1.75, -1.7, 2.05, -1.4, 1.9, -1.2, 2.15, -1.6, 1.8, -1.5, 2.3, -1.3, 1.7, -1.8, 2.0, -1.4, 1.85, -1.2, 2.2, -1.5, 1.9, -1.7, 2.05, -1.3, 1.75, -1.4, 2.1, -2.0, 1.95, -1.5, 1.8, -1.3, 2.15, -1.6, 2.0, -1.9, -1.0],
    [-0.95, -1.7, 2.05, -1.4, 1.85, -1.6, 2.2, -1.2, 1.7, -1.5, 2.1, -1.8, 1.95, -1.3, 2.25, -1.5, 1.8, -1.2, 2.0, -1.6, 1.75, -1.4, 2.15, -1.3, 1.9, -1.7, 2.05, -1.1, 1.8, -1.5, 2.2, -1.9, 1.85, -1.3, 2.0, -1.6, 1.7, -1.4, 2.1, -2.1, 1.9, -1.5],
    [-1.1, -1.85, 2.25, -1.3, 1.9, -1.6, 2.0, -1.4, 1.75, -1.2, 2.2, -1.7, 1.85, -1.5, 2.1, -1.3, 1.7, -1.6, 2.3, -1.2, 1.95, -1.8, 2.05, -1.4, 1.8, -1.3, 2.15, -1.5, 1.9, -2.2, 2.2, -1.3, 1.75, -1.6, 2.0, -1.4, 1.85, -1.5, 2.1, -1.7, 1.95, 0.2],
    [-0.9, -1.65, 1.9, -1.5, 2.15, -1.3, 1.8, -1.6, 2.05, -1.2, 1.75, -1.4, 2.2, -1.7, 1.9, -1.3, 2.3, -1.5, 1.85, -1.1, 2.0, -1.6, 1.7, -1.4, 2.15, -1.9, 1.95, -1.3, 1.8, -1.5, 2.1, -1.2, 1.9, -1.7, 2.25, -1.4, 1.75, -2.3, 2.0, -1.5, 1.85, -1.6, 2.1],
]

panels = [
    ("X", x_start_t, x_start, act_t, act_x, pred_t, pred_x, (-2.52, 2.9)),
    ("Y", y_start_t, y_start, act_t, act_y, pred_t, pred_y, (-3.16, 3.41)),
    ("Z", z_start_t, z_start, act_tz, act_z, pred_tz, pred_z, (-2.73, 3.05)),
]

fig, axes = plt.subplots(3, 1, figsize=(12, 8))

for ax, (name, st, sv, at, av, pts, pvs, ylim) in zip(axes, panels):
    ax.plot(st + at, sv + av, color="red", linewidth=1, label=f"Actual {name}")
    for t, v in zip(pts, pvs):
        n = min(len(t), len(v))
        ax.plot(st + t[:n], sv + v[:n], linestyle="--", linewidth=0.9)
    ax.set_title(f"Comparison of Actual and Predicted Data against Timestep ({name} Dimension)")
    ax.set_ylabel(f"{name} Value")
    ax.set_ylim(ylim)
    ax.grid(True)
    ax.legend(loc="upper left")

axes[-1].set_xlabel("Timestep")

plt.tight_layout()
plt.savefig("out.png", dpi=100)
